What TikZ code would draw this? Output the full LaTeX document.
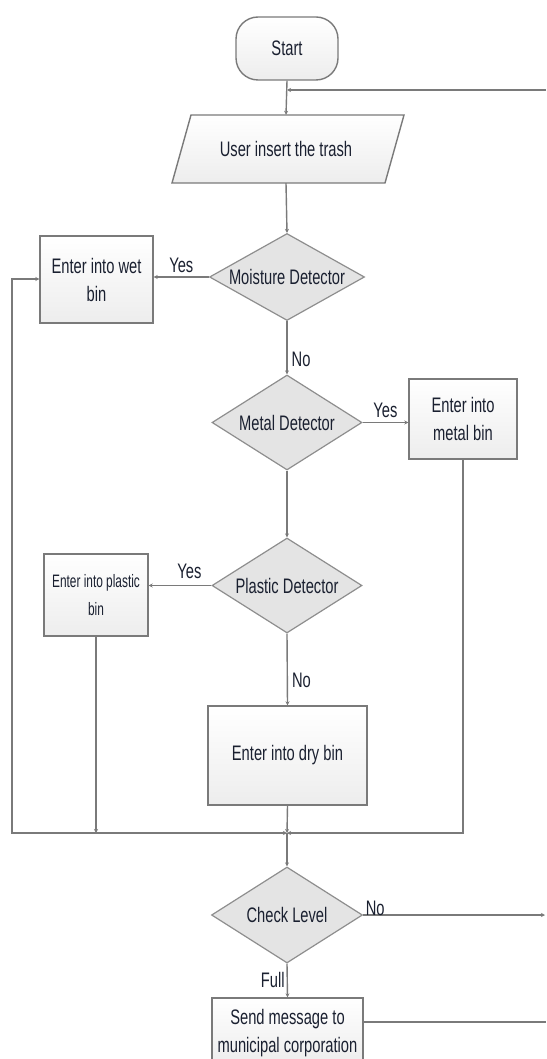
\documentclass[tikz,border=0pt]{standalone}
\usepackage{fontspec}
\setmainfont[FakeStretch=0.70]{Liberation Sans}
\usetikzlibrary{shapes.geometric,arrows.meta,calc}
\definecolor{linegray}{HTML}{7A7A7A}
\definecolor{txt}{HTML}{1A2030}
\definecolor{boxbot}{HTML}{EDEDED}
\definecolor{diafill}{HTML}{E4E4E4}
\begin{document}
\begin{tikzpicture}[x=1pt,y=-1pt,
  font=\fontsize{21}{28}\selectfont,
  box/.style={draw=linegray, line width=1.4pt, top color=white, bottom color=boxbot, text=txt, align=center, inner sep=0pt},
  dia/.style={diamond, draw=linegray!85, line width=1.2pt, fill=diafill, inner sep=0pt},
  conn/.style={draw=linegray, line width=1.4pt, -{Stealth[length=4pt,width=4pt]}},
  plain/.style={draw=linegray, line width=1.4pt},
  lbl/.style={text=txt, inner sep=1pt},
  every label/.style={text=txt, inner sep=0pt}]
\useasboundingbox (0,0) rectangle (546,1059);
\fill[white] (0,0) rectangle (546,1059);

% nodes
\node[box, rounded corners=22pt, minimum width=102pt, minimum height=63pt] (start) at (287,48.5) {Start};
\path[draw=linegray, line width=1.4pt, top color=white, bottom color=boxbot] (172,183) -- (191,115) -- (404,115) -- (385,183) -- cycle;
\node[text=txt, inner sep=0pt, minimum width=213pt, minimum height=68pt] (para) at (286,149) {User insert the trash};
\node[dia, minimum width=155pt, minimum height=87pt, label={center:Moisture Detector}] (moist) at (287,277) {};
\node[box, minimum width=113pt, minimum height=87pt] (wet) at (96.5,279.5) {Enter into wet\\bin};
\node[dia, minimum width=150pt, minimum height=95pt, label={center:Metal Detector}] (metal) at (287,422.5) {};
\node[box, minimum width=108pt, minimum height=80pt] (metalbin) at (463,419) {Enter into\\metal bin};
\node[dia, minimum width=150pt, minimum height=95pt, label={center:Plastic Detector}] (plastic) at (287,585.5) {};
\node[box, minimum width=104pt, minimum height=82pt, font=\fontsize{18}{28}\selectfont\addfontfeatures{FakeStretch=0.66}] (plasticbin) at (96,595) {Enter into plastic\\bin};
\node[box, minimum width=159pt, minimum height=99pt] (dry) at (287.5,755.5) {Enter into dry bin};
\coordinate (merge) at (287,833);
\node[dia, minimum width=151pt, minimum height=96pt, label={center:Check Level}] (check) at (287,915) {};
\node[box, minimum width=151pt, minimum height=66pt, text depth=0pt] (send) at (287.5,1031) {Send message to\\municipal corporation};

\coordinate (loopin) at (546,90);
\coordinate (wetcorner) at (12,279);
\coordinate (chkout) at (545,915);
\coordinate (sendout) at (546,1022);

% connectors
\draw[conn] (start.south) -- (para.north);
\draw[conn] (loopin) -- (loopin -| start.south);
\draw[conn] (para.south) -- (moist.north);
\draw[conn] (moist.west) -- (moist.west -| wet.east) node[lbl, midway, above=3pt] {Yes};
\draw[conn] (moist.south) -- (metal.north) node[lbl, pos=0.72, right=3pt] {No};
\draw[conn] (metal.east) -- (metal.east -| metalbin.west) node[lbl, midway, above=3pt] {Yes};
\draw[conn] (metal.south) -- (plastic.north);
\draw[conn] (plastic.west) -- (plastic.west -| plasticbin.east) node[lbl, pos=0.35, above=5pt] {Yes};
\draw[conn] (plastic.south) -- (dry.north) node[lbl, pos=0.65, right=3pt] {No};
\draw[conn] (dry.south) -- (merge);
\draw[plain, {Stealth[length=4pt,width=4pt]}-{Stealth[length=4pt,width=4pt]}] (wet.west |- wetcorner) -- (wetcorner) |- (merge);
\draw[conn] (plasticbin.south) -- (plasticbin.south |- merge);
\draw[conn] (metalbin.south) |- (merge);
\draw[conn] (merge) -- (check.north);
\draw[conn] (check.east) -- (chkout) node[lbl, pos=0.0, anchor=south west, xshift=1pt, yshift=-2pt] {No};
\draw[conn] (check.south) -- (send.north) node[lbl, midway, left=1pt] {Full};
\draw[plain] (send.east |- sendout) -- (sendout);
\end{tikzpicture}
\end{document}
